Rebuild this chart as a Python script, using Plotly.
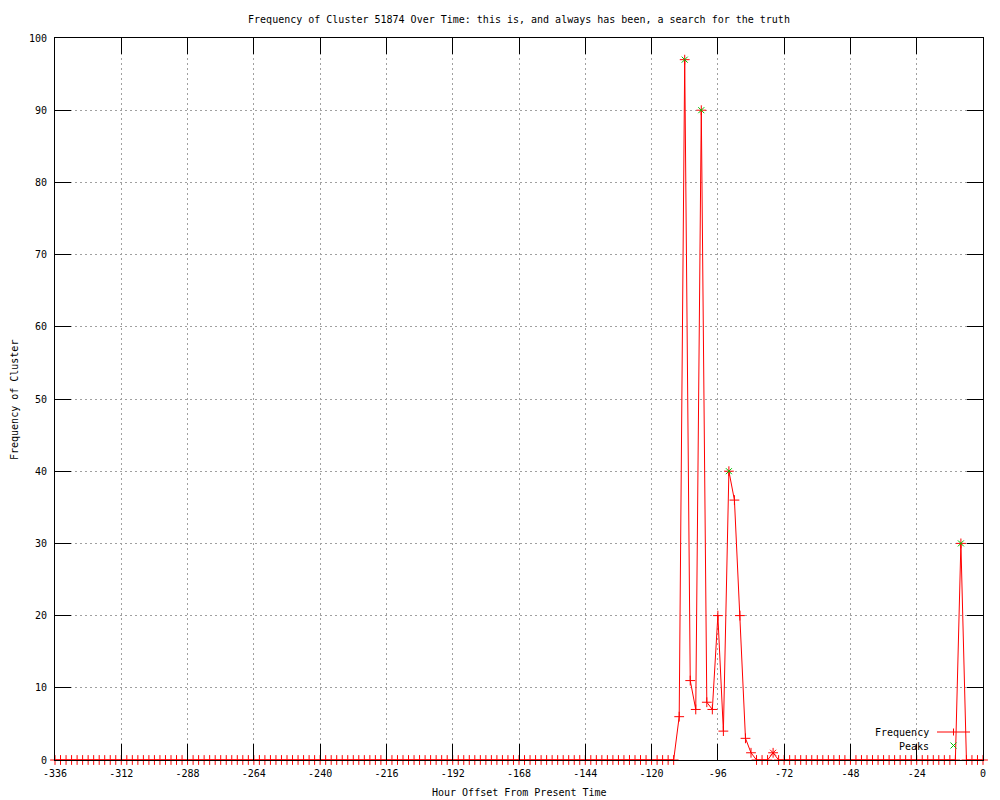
import plotly.graph_objects as go

hours = list(range(-336, 1, 2))

# hours with a non-zero frequency; every other sample is 0
active_hours = [-110, -108, -106, -104, -102, -100, -98, -96, -94, -92, -90, -88, -86, -84, -76, -8]
active_freq = [6, 97, 11, 7, 90, 8, 7, 20, 4, 40, 36, 20, 3, 1, 1, 30]

peak_hours = [-108, -102, -92, -8]
peak_freq = [97, 90, 40, 30]

minor_peak_hours = [-76]
minor_peak_freq = [1]

x_tickvals = list(range(-336, 1, 24))
x_ticktext = [str(v) for v in x_tickvals]
y_tickvals = list(range(0, 101, 10))
y_ticktext = [str(v) for v in y_tickvals]

lookup = dict(zip(active_hours, active_freq))
freq = [lookup.get(h, 0) for h in hours]

# plot area in pixels (gnuplot-like frame)
L, R, T, B = 55, 983, 38, 760
W, H = R - L, B - T


def px(x):
    return (x - L) / W


def py(y):
    return (B - y) / H


RED = "#ff0000"
GREEN = "#00c000"
FONT = dict(family="DejaVu Sans Mono", size=10, color="black")

fig = go.Figure()

fig.add_trace(
    go.Scatter(
        x=hours,
        y=freq,
        mode="lines+markers",
        name="Frequency",
        line=dict(color=RED, width=1),
        marker=dict(symbol="cross-thin", size=7, line=dict(color=RED, width=1)),
        cliponaxis=False,
        showlegend=False,
    )
)
fig.add_trace(
    go.Scatter(
        x=minor_peak_hours,
        y=minor_peak_freq,
        mode="markers",
        marker=dict(symbol="x-thin", size=6, line=dict(color=RED, width=1)),
        cliponaxis=False,
        showlegend=False,
    )
)
fig.add_trace(
    go.Scatter(
        x=peak_hours,
        y=peak_freq,
        mode="markers",
        name="Peaks",
        marker=dict(symbol="x-thin", size=6, line=dict(color=GREEN, width=1)),
        cliponaxis=False,
        showlegend=False,
    )
)

# legend drawn gnuplot style: text on the left, sample on the right
shapes = [
    dict(type="line", xref="paper", yref="paper",
         x0=px(937), x1=px(970), y0=py(732), y1=py(732),
         line=dict(color=RED, width=1)),
    dict(type="line", xref="paper", yref="paper",
         x0=px(953.5), x1=px(953.5), y0=py(728.5), y1=py(735.5),
         line=dict(color=RED, width=1)),
    dict(type="line", xref="paper", yref="paper",
         x0=px(950.5), x1=px(956.5), y0=py(742.5), y1=py(748.5),
         line=dict(color=GREEN, width=1)),
    dict(type="line", xref="paper", yref="paper",
         x0=px(950.5), x1=px(956.5), y0=py(748.5), y1=py(742.5),
         line=dict(color=GREEN, width=1)),
]

annotations = [
    dict(text="Frequency", xref="paper", yref="paper", x=px(931), y=py(732),
         xanchor="right", yanchor="middle", showarrow=False, font=FONT),
    dict(text="Peaks", xref="paper", yref="paper", x=px(931), y=py(746),
         xanchor="right", yanchor="middle", showarrow=False, font=FONT),
    dict(text="Hour Offset From Present Time", xref="paper", yref="paper",
         x=px(519), y=py(792), xanchor="center", yanchor="middle",
         showarrow=False, font=FONT),
    dict(text="Frequency of Cluster", xref="paper", yref="paper",
         x=px(14), y=py(400), xanchor="center", yanchor="middle",
         textangle=-90, showarrow=False, font=FONT),
]

axis_common = dict(
    showline=True,
    linecolor="black",
    linewidth=1,
    mirror="ticks",
    ticks="inside",
    ticklen=16,
    tickwidth=1,
    tickcolor="black",
    showgrid=True,
    gridcolor="#a0a0a0",
    gridwidth=1,
    griddash="2px,3px",
    zeroline=False,
    tickfont=FONT,
    layer="above traces",
    automargin=False,
)

fig.update_layout(
    width=1000,
    height=800,
    paper_bgcolor="white",
    plot_bgcolor="white",
    margin=dict(l=L, r=1000 - R, t=T, b=800 - B, autoexpand=False),
    title=dict(
        text="Frequency of Cluster 51874 Over Time: this is, and always has been, a search for the truth",
        x=0.5,
        xref="paper",
        xanchor="center",
        y=1 - 19 / 800,
        yref="container",
        yanchor="middle",
        font=FONT,
    ),
    xaxis=dict(
        range=[-336, 0],
        tickmode="array",
        tickvals=x_tickvals,
        ticktext=x_ticktext,
        ticklabelstandoff=4,
        **axis_common,
    ),
    yaxis=dict(
        range=[0, 100],
        tickmode="array",
        tickvals=y_tickvals,
        ticktext=y_ticktext,
        ticklabelstandoff=5,
        **axis_common,
    ),
    shapes=shapes,
    annotations=annotations,
    showlegend=False,
)

# the browser's default body margin would shift the 1000x800 figure
fig.write_html(
    "out.html",
    config={"displayModeBar": False},
    post_script="document.body.style.margin='0';",
)
